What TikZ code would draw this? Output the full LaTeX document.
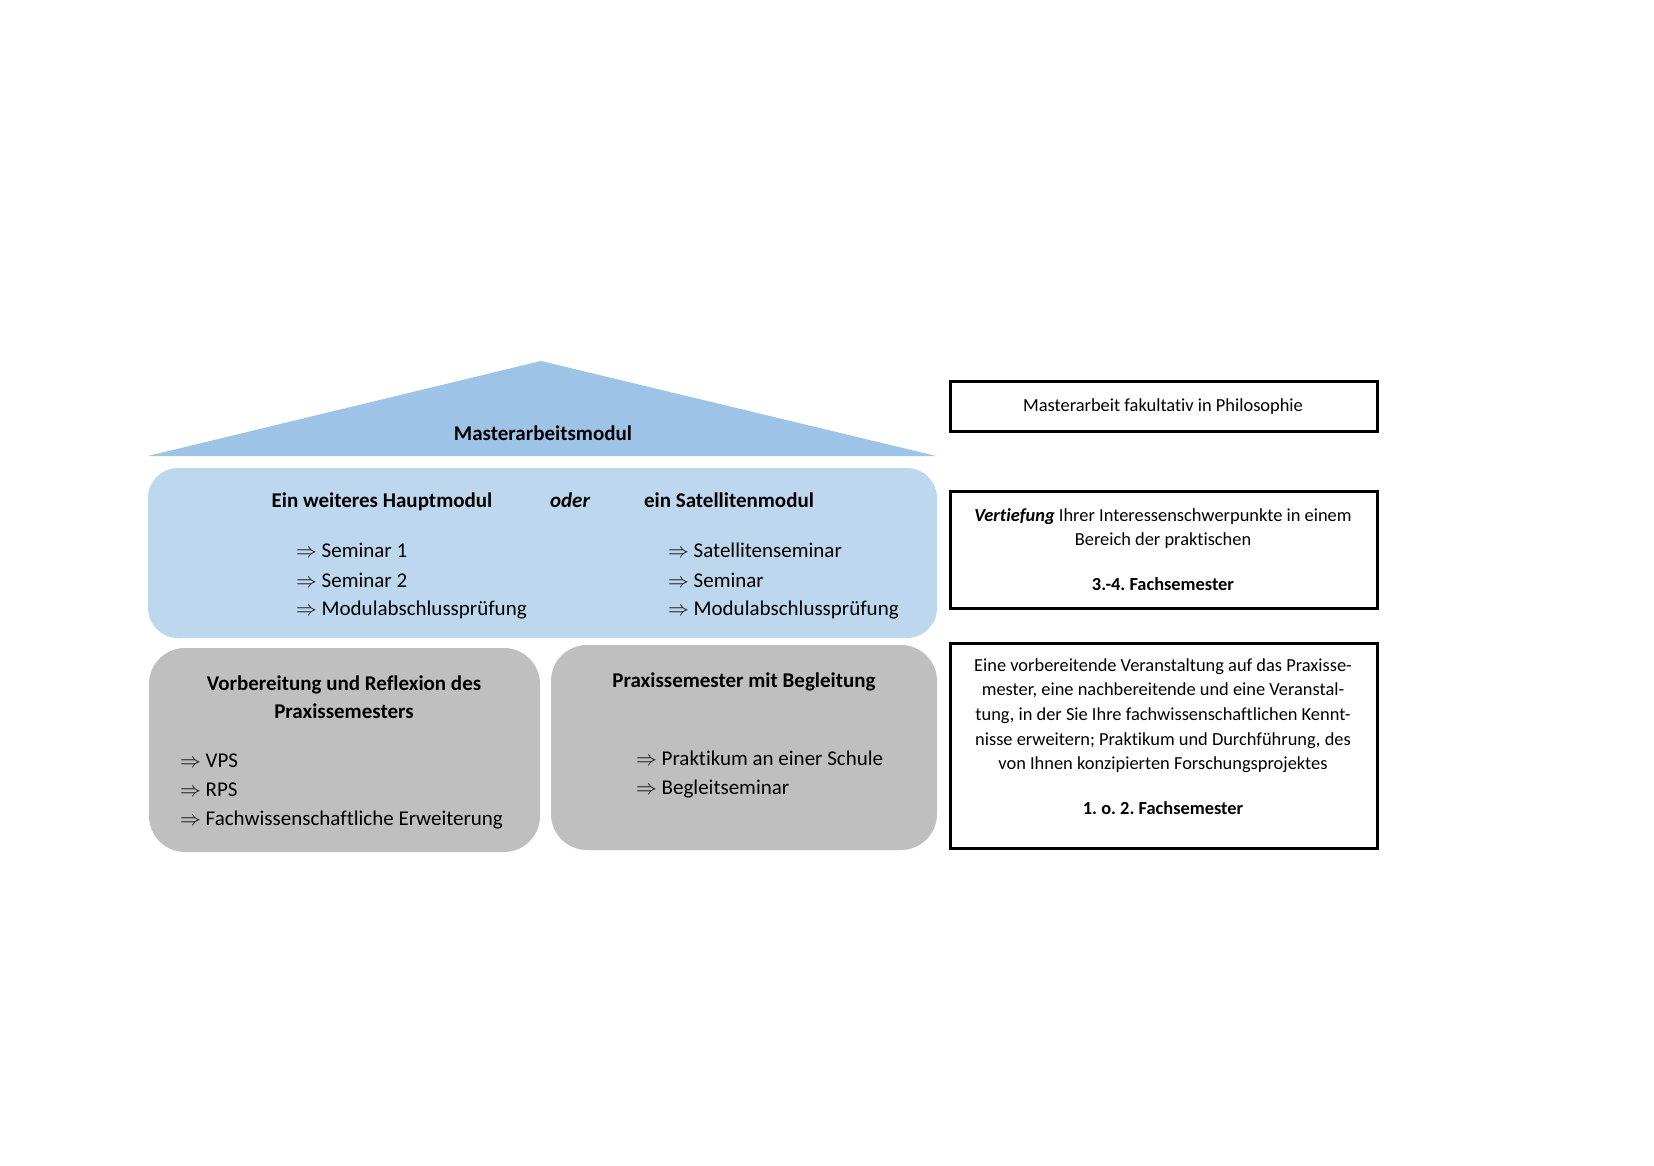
\documentclass[tikz,border=0pt]{standalone}
\usepackage{fontspec}
\setmainfont{Carlito}[Ligatures=NoCommon]
\definecolor{triblue}{HTML}{9DC3E6}
\definecolor{boxblue}{HTML}{BDD7EE}
\definecolor{boxgray}{HTML}{BFBFBF}
\newcommand{\arr}{$\Rightarrow$ }
\frenchspacing
\begin{document}
\begin{tikzpicture}[x=1pt,y=-1pt,
  big/.style={font=\fontsize{21}{25}\selectfont, inner sep=0pt},
  bigb/.style={font=\fontsize{21}{25}\selectfont\bfseries, inner sep=0pt},
  small/.style={font=\fontsize{18.4}{22}\selectfont, inner sep=0pt},
  smallb/.style={font=\fontsize{18.4}{22}\selectfont\bfseries, inner sep=0pt},
  item/.style={big, anchor=base west},
  head/.style={bigb, anchor=base},
  rline/.style={small, anchor=base},
  rlineb/.style={smallb, anchor=base},
  softbox/.style={draw=none, inner sep=0pt},
  framebox/.style={draw=black, line width=3pt, fill=white, inner sep=0pt}]
\useasboundingbox[fill=white] (0,0) rectangle (1654,1166);

% roof
\fill[triblue] (148,456) coordinate (roofL) -- (541,361) coordinate (roofT) -- (936,456) coordinate (roofR) -- cycle;
\node[head] (roof) at (543,440) {Masterarbeitsmodul};

% blue box
\node[softbox, fill=boxblue, rounded corners=30pt, minimum width=789, minimum height=170] (blue) at (542.5,553) {};
\node[head] (h1) at (382,507) {Ein weiteres Hauptmodul};
\node[head, font=\fontsize{21}{25}\selectfont\bfseries\itshape] (oder) at (570,507) {oder};
\node[head] (h2) at (729,507) {ein Satellitenmodul};
\node[item] (l1) at (296,557) {\arr Seminar 1};
\node[item] (l2) at (296,587) {\arr Seminar 2};
\node[item] (l3) at (296,615) {\arr Modulabschlussprüfung};
\node[item] (r1) at (668,557) {\arr Satellitenseminar};
\node[item] (r2) at (668,587) {\arr Seminar};
\node[item] (r3) at (668,615) {\arr Modulabschlussprüfung};

% gray boxes
\node[softbox, fill=boxgray, rounded corners=36pt, minimum width=391, minimum height=204] (gl) at (344.5,750) {};
\node[head] (gl1) at (344,690) {Vorbereitung und Reflexion des};
\node[head] (gl2) at (344,718) {Praxissemesters};
\node[item] (gli1) at (180,767) {\arr VPS};
\node[item] (gli2) at (180,796) {\arr RPS};
\node[item] (gli3) at (180,825) {\arr Fachwissenschaftliche Erweiterung};

\node[softbox, fill=boxgray, rounded corners=36pt, minimum width=386, minimum height=205] (gr) at (744,747.5) {};
\node[head] (gr1) at (744,687) {Praxissemester mit Begleitung};
\node[item] (gri1) at (636,765) {\arr Praktikum an einer Schule};
\node[item] (gri2) at (636,794) {\arr Begleitseminar};

% right framed boxes
\node[framebox, minimum width=427, minimum height=50] (b1) at (1163.5,406) {};
\node[rline] (b1t) at (1163,411) {Masterarbeit fakultativ in Philosophie};

\node[framebox, minimum width=427, minimum height=117] (b2) at (1163.5,549.5) {};
\node[rline] (b2a) at (1163,521) {\textbf{\textit{Vertiefung}} Ihrer Interessenschwerpunkte in einem};
\node[rline] (b2b) at (1163,545) {Bereich der praktischen};
\node[rlineb] (b2c) at (1163,590) {3.-4. Fachsemester};

\node[framebox, minimum width=427, minimum height=205] (b3) at (1163.5,745.5) {};
\node[rline] (b3a) at (1163,671) {Eine vorbereitende Veranstaltung auf das Praxisse-};
\node[rline] (b3b) at (1163,695) {mester, eine nachbereitende und eine Veranstal-};
\node[rline] (b3c) at (1163,720) {tung, in der Sie Ihre fachwissenschaftlichen Kennt-};
\node[rline] (b3d) at (1163,745) {nisse erweitern; Praktikum und Durchführung, des};
\node[rline] (b3e) at (1163,769) {von Ihnen konzipierten Forschungsprojektes};
\node[rlineb] (b3f) at (1163,814) {1. o. 2. Fachsemester};
\end{tikzpicture}
\end{document}
